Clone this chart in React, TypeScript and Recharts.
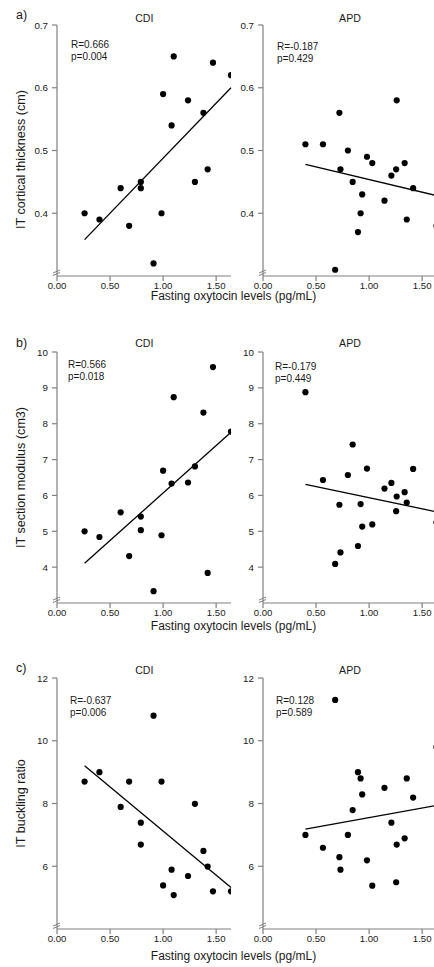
import React from "react";
import { ScatterChart, Scatter, XAxis, YAxis, ReferenceLine, ReferenceDot, Label } from "recharts";

// fasting oxytocin (pg/mL), same patients in every row
const cdiOxytocin = [0.26, 0.4, 0.6, 0.68, 0.79, 0.79, 0.91, 0.985, 1.0, 1.08, 1.1, 1.235, 1.3, 1.38, 1.42, 1.47, 1.64];
const apdOxytocin = [0.4, 0.565, 0.68, 0.72, 0.73, 0.8, 0.845, 0.895, 0.92, 0.935, 0.98, 1.03, 1.145, 1.21, 1.255, 1.26, 1.335, 1.355, 1.415, 1.635];

const cdiThickness = [0.4, 0.39, 0.44, 0.38, 0.45, 0.44, 0.32, 0.4, 0.59, 0.54, 0.65, 0.58, 0.45, 0.56, 0.47, 0.64, 0.62];
const apdThickness = [0.51, 0.51, 0.31, 0.56, 0.47, 0.5, 0.45, 0.37, 0.4, 0.43, 0.49, 0.48, 0.42, 0.46, 0.47, 0.58, 0.48, 0.39, 0.44, 0.38];

const cdiModulus = [5.0, 4.84, 5.53, 4.31, 5.41, 5.03, 3.33, 4.89, 6.69, 6.33, 8.74, 6.36, 6.81, 8.31, 3.84, 9.58, 7.78];
const apdModulus = [8.88, 6.43, 4.09, 5.74, 4.41, 6.57, 7.42, 4.59, 5.76, 5.13, 6.75, 5.19, 6.19, 6.35, 5.56, 5.97, 6.09, 5.8, 6.74, 5.25];

const cdiBuckling = [8.7, 9.0, 7.89, 8.7, 7.39, 6.69, 10.8, 8.7, 5.39, 5.89, 5.08, 5.69, 7.99, 6.49, 5.99, 5.2, 5.2];
const apdBuckling = [7.0, 6.59, 11.3, 6.29, 5.89, 7.0, 7.79, 9.0, 8.8, 8.29, 6.19, 5.38, 8.5, 7.39, 5.49, 6.69, 6.89, 8.8, 8.19, 9.8];

// regression line end points: [x0, y0, x1, y1]
const cdiThicknessFit = [0.26, 0.358, 1.64, 0.6];
const apdThicknessFit = [0.4, 0.478, 1.64, 0.428];
const cdiModulusFit = [0.26, 4.11, 1.64, 7.76];
const apdModulusFit = [0.4, 6.31, 1.64, 5.54];
const cdiBucklingFit = [0.26, 9.2, 1.64, 5.32];
const apdBucklingFit = [0.4, 7.18, 1.64, 7.94];

const xTicks = [0, 0.5, 1, 1.5];
const thicknessTicks = [0.4, 0.5, 0.6, 0.7];
const modulusTicks = [4, 5, 6, 7, 8, 9, 10];
const bucklingTicks = [6, 8, 10, 12];

const FONT = '"Liberation Sans", Arial, Helvetica, sans-serif';
const AXIS = "#808080";
const INK = "#1a1a1a";
const PLOT_W = 174;
const PLOT_H = 251;

const Dot = (p: any) => <circle cx={p.cx} cy={p.cy} r={3.1} fill="#000" />;

const BreakMark = (p: any) => (
  <g stroke={AXIS} strokeWidth={1}>
    <line x1={p.cx - 4} y1={p.cy - 3} x2={p.cx + 3} y2={p.cy - 6} />
    <line x1={p.cx - 4} y1={p.cy - 0.5} x2={p.cx + 3} y2={p.cy - 3.5} />
  </g>
);

function YTitle({ viewBox, value, shift }: any) {
  const cx = 21;
  const cy = viewBox.y + viewBox.height / 2 + shift;
  return (
    <text
      x={cx}
      y={cy}
      transform={`rotate(-90, ${cx}, ${cy})`}
      textAnchor="middle"
      dominantBaseline="central"
      fontSize={12.6}
      fill={INK}
      fontFamily={FONT}
    >
      {value}
    </text>
  );
}

function Panel(props: any) {
  const { xs, ys, fit, domain, ticks, fmt, left, top, axisWidth, yTitle, titleShift } = props;
  const data = xs.map((x: number, i: number) => ({ x, y: ys[i] }));
  return (
    <div style={{ position: "absolute", left, top: top - 5 }}>
      <ScatterChart
        width={axisWidth + PLOT_W + 12}
        height={PLOT_H + 35}
        margin={{ top: 5, right: 12, left: 0, bottom: 0 }}
      >
        <XAxis
          type="number"
          dataKey="x"
          domain={[0, 1.64]}
          ticks={xTicks}
          allowDataOverflow
          tickFormatter={(v: number) => v.toFixed(2)}
          stroke={AXIS}
          strokeWidth={1.2}
          tickSize={5}
          tickMargin={1}
          height={30}
          tick={{ fill: INK, fontSize: 9.6, fontFamily: FONT }}
        />
        <YAxis
          type="number"
          dataKey="y"
          domain={domain}
          ticks={ticks}
          allowDataOverflow
          tickFormatter={fmt}
          stroke={AXIS}
          strokeWidth={1.2}
          tickSize={5}
          tickMargin={4}
          width={axisWidth}
          tick={{ fill: INK, fontSize: 9.8, fontFamily: FONT }}
        >
          {yTitle ? <Label content={(lp: any) => <YTitle {...lp} value={yTitle} shift={titleShift} />} /> : null}
        </YAxis>
        <ReferenceLine
          segment={[
            { x: fit[0], y: fit[1] },
            { x: fit[2], y: fit[3] },
          ]}
          stroke="#000"
          strokeWidth={1.3}
          ifOverflow="visible"
        />
        <ReferenceDot x={0} y={domain[0]} ifOverflow="visible" shape={BreakMark} />
        <Scatter data={data} shape={Dot} isAnimationActive={false} />
      </ScatterChart>
    </div>
  );
}

const txt = (left: number, top: number, s: string, size: number, extra: any = {}) => (
  <div
    style={{
      position: "absolute",
      left,
      top,
      fontSize: size,
      lineHeight: `${size}px`,
      color: INK,
      whiteSpace: "nowrap",
      ...extra,
    }}
  >
    {s}
  </div>
);

const centered = (cx: number, cy: number, s: string, size: number) =>
  txt(cx - 150, cy - size / 2, s, size, { width: 300, textAlign: "center" });

const stat = (left: number, top: number, r: string, p: string) => (
  <div style={{ position: "absolute", left, top, fontSize: 10, lineHeight: "12px", color: INK }}>
    <div>{r}</div>
    <div>{p}</div>
  </div>
);

const fmt1 = (v: number) => v.toFixed(1);
const fmt0 = (v: number) => String(v);

export default function App() {
  const rows = [
    {
      top: 25, letter: "a)", letterY: 15, titleY: 18, xTitleY: 296,
      yTitle: "IT cortical thickness (cm)", shift: 9, domain: [0.3, 0.7], ticks: thicknessTicks, fmt: fmt1,
      cdi: cdiThickness, apd: apdThickness, cdiFit: cdiThicknessFit, apdFit: apdThicknessFit,
      cdiStat: ["R=0.666", "p=0.004", 71, 39], apdStat: ["R=-0.187", "p=0.429", 277, 41],
    },
    {
      top: 352, letter: "b)", letterY: 343, titleY: 343.5, xTitleY: 626,
      yTitle: "IT section modulus (cm3)", shift: 0, domain: [3, 10], ticks: modulusTicks, fmt: fmt0,
      cdi: cdiModulus, apd: apdModulus, cdiFit: cdiModulusFit, apdFit: apdModulusFit,
      cdiStat: ["R=0.566", "p=0.018", 68, 359], apdStat: ["R=-0.179", "p=0.449", 275, 361],
    },
    {
      top: 678, letter: "c)", letterY: 668, titleY: 670, xTitleY: 956,
      yTitle: "IT buckling ratio", shift: 0, domain: [4, 12], ticks: bucklingTicks, fmt: fmt0,
      cdi: cdiBuckling, apd: apdBuckling, cdiFit: cdiBucklingFit, apdFit: apdBucklingFit,
      cdiStat: ["R=-0.637", "p=0.006", 70, 695], apdStat: ["R=0.128", "p=0.589", 276, 695],
    },
  ];

  return (
    <div
      style={{
        position: "absolute",
        left: 0,
        top: 0,
        width: 434,
        height: 967,
        overflow: "hidden",
        background: "#fff",
        fontFamily: FONT,
      }}
    >
      {rows.map((r) => (
        <React.Fragment key={r.letter}>
          <Panel
            xs={cdiOxytocin} ys={r.cdi} fit={r.cdiFit} domain={r.domain} ticks={r.ticks} fmt={r.fmt}
            left={0} top={r.top} axisWidth={57} yTitle={r.yTitle} titleShift={r.shift}
          />
          <Panel
            xs={apdOxytocin} ys={r.apd} fit={r.apdFit} domain={r.domain} ticks={r.ticks} fmt={r.fmt}
            left={228} top={r.top} axisWidth={35}
          />
          {txt(16, r.letterY - 6.5, r.letter, 12.5)}
          {centered(144.3, r.titleY, "CDI", 10.6)}
          {centered(350, r.titleY, "APD", 10.6)}
          {stat(r.cdiStat[2] as number, r.cdiStat[3] as number, r.cdiStat[0] as string, r.cdiStat[1] as string)}
          {stat(r.apdStat[2] as number, r.apdStat[3] as number, r.apdStat[0] as string, r.apdStat[1] as string)}
          {centered(233.5, r.xTitleY, "Fasting oxytocin levels (pg/mL)", 12)}
        </React.Fragment>
      ))}
    </div>
  );
}
